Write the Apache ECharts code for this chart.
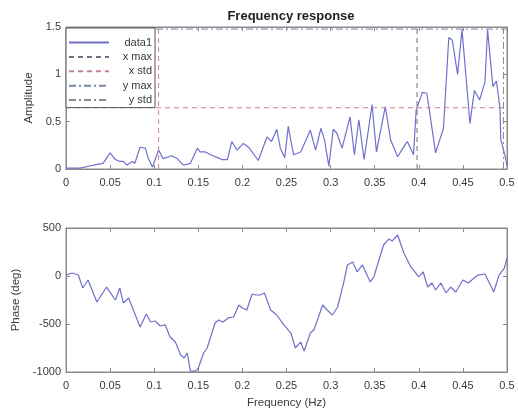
<!DOCTYPE html>
<html>
<head>
<meta charset="utf-8">
<script src="https://cdn.jsdelivr.net/npm/echarts@6/dist/echarts.min.js"></script>
<style>
  html, body { margin: 0; padding: 0; background: #fff; }
  #chart { width: 518px; height: 414px; }
</style>
</head>
<body>
<div id="chart"></div>
<script>
// amplitude curve (top plot)
var ampFreq = [0, 0.016, 0.031, 0.042, 0.05, 0.056, 0.061, 0.065, 0.069, 0.075, 0.078, 0.084, 0.09, 0.093, 0.098, 0.1,
  0.105, 0.11, 0.12, 0.126, 0.133, 0.141, 0.149, 0.152, 0.158, 0.164, 0.172, 0.177, 0.183, 0.188, 0.194, 0.201,
  0.207, 0.218, 0.228, 0.233, 0.239, 0.243, 0.248, 0.252, 0.258, 0.266, 0.277, 0.283, 0.289, 0.293, 0.298, 0.303,
  0.307, 0.313, 0.322, 0.327, 0.332, 0.338, 0.347, 0.352, 0.362, 0.368, 0.376, 0.382, 0.387, 0.394, 0.397, 0.404,
  0.409, 0.412, 0.419, 0.428, 0.434, 0.438, 0.444, 0.449, 0.458, 0.463, 0.469, 0.475, 0.478, 0.484, 0.488, 0.492,
  0.493, 0.498, 0.5];
var ampVal = [0.01, 0.01, 0.04, 0.06, 0.17, 0.10, 0.08, 0.08, 0.04, 0.08, 0.06, 0.23, 0.22, 0.12, 0.02, 0.0,
  0.2, 0.11, 0.14, 0.11, 0.04, 0.06, 0.22, 0.18, 0.18, 0.15, 0.12, 0.10, 0.10, 0.29, 0.20, 0.27,
  0.23, 0.09, 0.34, 0.29, 0.42, 0.22, 0.12, 0.45, 0.15, 0.18, 0.41, 0.20, 0.43, 0.31, 0.03, 0.42,
  0.38, 0.22, 0.55, 0.15, 0.52, 0.10, 0.68, 0.18, 0.66, 0.31, 0.13, 0.22, 0.29, 0.15, 0.62, 0.81,
  0.80, 0.62, 0.17, 0.43, 1.39, 1.36, 1.0, 1.47, 0.48, 0.83, 0.73, 0.92, 1.47, 0.87, 0.93, 0.65,
  0.31, 0.13, 0.03];

// reference lines (top plot)
var xMax = 0.398;
var xStd = 0.105;
var ampStd = 0.647;
var yMax = 1.478;
var yStd = 0.496;
var ampRange = [0, 1.5];
var freqRange = [0, 0.5];

// phase curve (bottom plot)
var phFreq = [0, 0.007, 0.014, 0.019, 0.025, 0.035, 0.046, 0.056, 0.061, 0.065, 0.071, 0.084, 0.091, 0.096, 0.101,
  0.107, 0.1125, 0.118, 0.124, 0.13, 0.134, 0.1375, 0.141, 0.147, 0.15, 0.156, 0.160, 0.169, 0.173, 0.178, 0.184,
  0.19, 0.196, 0.2, 0.205, 0.211, 0.215, 0.22, 0.225, 0.232, 0.239, 0.247, 0.255, 0.26, 0.266, 0.27, 0.277, 0.281,
  0.291, 0.296, 0.302, 0.308, 0.315, 0.319, 0.325, 0.33, 0.336, 0.345, 0.349, 0.36, 0.366, 0.37, 0.376, 0.383,
  0.391, 0.4, 0.405, 0.41, 0.415, 0.419, 0.425, 0.431, 0.436, 0.442, 0.45, 0.456, 0.467, 0.475, 0.485, 0.491,
  0.497, 0.5];
var phVal = [10, 31, 10, -125, -42, -271, -115, -250, -125, -281, -229, -531, -396, -479, -469,
  -521, -510, -635, -688, -823, -854, -802, -990, -990, -958, -802, -750, -490, -458, -479, -437,
  -427, -302, -333, -354, -187, -198, -198, -177, -354, -406, -510, -594, -750, -688, -781, -594, -563,
  -302, -354, -406, -323, -62, 115, 146, 42, 115, -62, -10, 323, 385, 365, 427, 240,
  94, -10, 42, -115, -73, -146, -73, -177, -115, -167, -42, -73, 10, 21, -167, 10,
  83, 188];

var legendNames = ["data1", "x max", "x std", "y max", "y std"];

function zip(xs, ys) {
  return xs.map(function (x, i) { return [x, ys[i]]; });
}
function vLine(x) { return [[x, ampRange[0]], [x, ampRange[1]]]; }
function hLine(y) { return [[freqRange[0], y], [freqRange[1], y]]; }

var font = "Liberation Sans";
var textColor = "#3a3a3a";
var boxColor = "#8a8a8a";
var lineColor = "#7070cc";

function xAx(grid, pos, showLabel, name) {
  return {
    type: "value", gridIndex: grid, position: pos, min: 0, max: 0.5, interval: 0.05,
    axisLine: { show: true, onZero: false, lineStyle: { color: boxColor } },
    axisTick: { show: true, inside: true, length: 4, lineStyle: { color: boxColor } },
    axisLabel: { show: showLabel, color: textColor, fontSize: 11, fontFamily: font, margin: 8 },
    splitLine: { show: false },
    name: name || "", nameLocation: "middle", nameGap: 25,
    nameTextStyle: { color: textColor, fontSize: 11.5, fontFamily: font }
  };
}
function yAx(grid, pos, min, max, interval, showLabel, name, gap) {
  return {
    type: "value", gridIndex: grid, position: pos, min: min, max: max, interval: interval,
    axisLine: { show: true, onZero: false, lineStyle: { color: boxColor } },
    axisTick: { show: true, inside: true, length: 4, lineStyle: { color: boxColor } },
    axisLabel: {
      show: showLabel, color: textColor, fontSize: 11, fontFamily: font, margin: 5,
      formatter: function (v) { return String(v); }
    },
    splitLine: { show: false },
    name: name || "", nameLocation: "middle", nameGap: gap || 0,
    nameTextStyle: { color: textColor, fontSize: 11.5, fontFamily: font }
  };
}

function refLine(name, color, type, pts) {
  return {
    name: name, type: "line", xAxisIndex: 0, yAxisIndex: 0, data: pts,
    symbol: "none", silent: true,
    lineStyle: { color: color, width: 1, type: type },
    itemStyle: { color: color }
  };
}

var chart = echarts.init(document.getElementById("chart"));
chart.setOption({
  backgroundColor: "#fff",
  animation: false,
  title: {
    text: "Frequency response", left: 286, top: 5, textAlign: "center",
    textStyle: { fontSize: 13, fontWeight: "bold", color: "#222", fontFamily: font }
  },
  legend: {
    data: legendNames, orient: "vertical", left: 66, top: 28,
    backgroundColor: "#fff", borderColor: "#555", borderWidth: 1,
    padding: [9, 3, 2, 2], itemGap: 3.4, itemWidth: 40, itemHeight: 12,
    itemStyle: { opacity: 0 },
    formatter: "{a|{name}}",
    textStyle: {
      color: textColor, fontSize: 11, fontFamily: font,
      rich: { a: { width: 38, align: "right", fontSize: 11, fontFamily: font, color: textColor } }
    }
  },
  grid: [
    { left: 66, right: 11, top: 27, height: 142, show: true, borderColor: boxColor, borderWidth: 1 },
    { left: 66, right: 11, top: 228, height: 144, show: true, borderColor: boxColor, borderWidth: 1 }
  ],
  xAxis: [
    xAx(0, "bottom", true),
    xAx(0, "top", false),
    xAx(1, "bottom", true, "Frequency (Hz)"),
    xAx(1, "top", false)
  ],
  yAxis: [
    yAx(0, "left", 0, 1.5, 0.5, true, "Amplitude", 21),
    yAx(0, "right", 0, 1.5, 0.5, false),
    yAx(1, "left", -1000, 500, 500, true, "Phase (deg)", 31),
    yAx(1, "right", -1000, 500, 500, false)
  ],
  series: [
    {
      name: "data1", type: "line", xAxisIndex: 0, yAxisIndex: 0,
      data: zip(ampFreq, ampVal), symbol: "none",
      lineStyle: { color: lineColor, width: 1.2 }, itemStyle: { color: lineColor }
    },
    refLine("x max", "#6a7080", [5, 4], vLine(xMax)),
    refLine("x std", "#c980a6", [5, 4], vLine(xStd)),
    refLine("x std", "#c980a6", [5, 4], hLine(ampStd)),
    refLine("y max", "#7888a8", [7, 3, 2, 3], hLine(yMax)),
    refLine("y std", "#8a8a92", [7, 3, 2, 3], vLine(yStd)),
    {
      name: "phase", type: "line", xAxisIndex: 2, yAxisIndex: 2,
      data: zip(phFreq, phVal), symbol: "none",
      lineStyle: { color: lineColor, width: 1.2 }, itemStyle: { color: lineColor }
    }
  ]
});
</script>
</body>
</html>
